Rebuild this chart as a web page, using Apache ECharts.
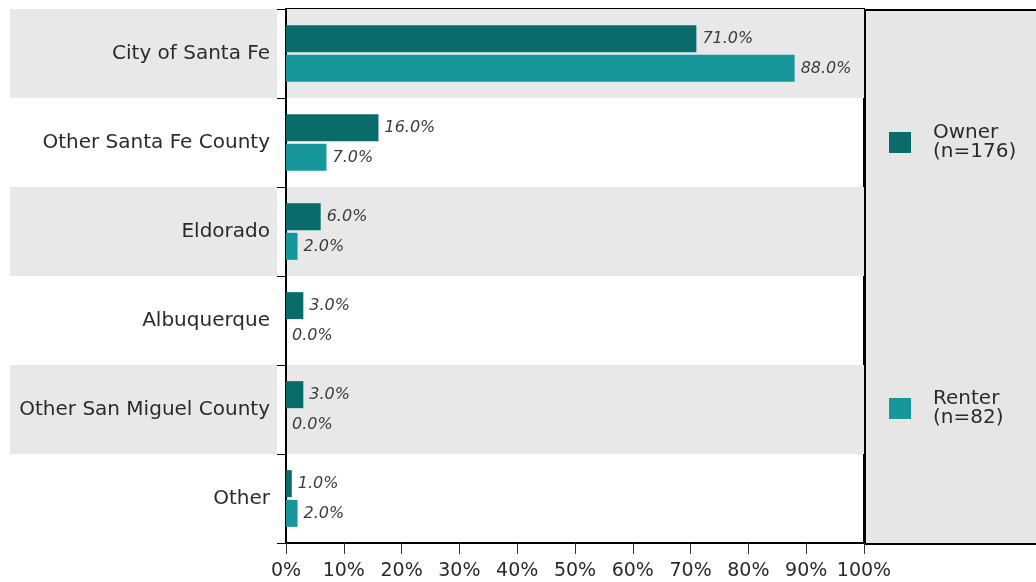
<!DOCTYPE html>
<html>
<head>
<meta charset="utf-8">
<script src="https://cdn.jsdelivr.net/npm/echarts@6/dist/echarts.min.js"></script>
<style>
  html, body { margin: 0; padding: 0; background: #fff; }
  #chart { width: 1036px; height: 582px; }
</style>
</head>
<body>
<div id="chart"></div>
<script>
// Place of residence by tenure
const categories = ['City of Santa Fe', 'Other Santa Fe County', 'Eldorado', 'Albuquerque', 'Other San Miguel County', 'Other'];
const ownerValues = [71, 16, 6, 3, 3, 1];
const renterValues = [88, 7, 2, 0, 0, 2];
const ownerName = 'Owner';
const renterName = 'Renter';
const ownerCount = 'n=176';
const renterCount = 'n=82';

const FONT = '"DejaVu Sans", Verdana, sans-serif';
const BAND = '#e8e8e8';
const TEXT = '#2b2b2b';

const chart = echarts.init(document.getElementById('chart'), null, { renderer: 'canvas' });

const valueLabel = {
  show: true,
  position: 'right',
  distance: 6,
  fontFamily: FONT,
  fontStyle: 'italic',
  fontSize: 16,
  color: '#3c3c3c',
  formatter: p => p.value.toFixed(1) + '%'
};

function legendFor(name, count, top) {
  return {
    data: [name],
    orient: 'vertical',
    left: 889,
    top: top,
    padding: 0,
    itemWidth: 22,
    itemHeight: 21,
    icon: 'rect',
    selectedMode: false,
    formatter: n => n + '\n(' + count + ')',
    textStyle: {
      fontFamily: FONT,
      fontSize: 20,
      lineHeight: 19,
      color: TEXT,
      padding: [0, 0, 0, 17]
    }
  };
}

// label boxes double as the row bands left of the axis
const labelBox = {
  width: 260, height: 89, lineHeight: 89, align: 'right',
  padding: [0, 7, 0, 0],
  fontFamily: FONT, fontSize: 20, color: TEXT
};

chart.setOption({
  animation: false,
  backgroundColor: '#ffffff',
  graphic: [{
    // legend panel on the right of the plot
    type: 'rect',
    left: 864,
    top: 9,
    shape: { width: 180, height: 534 },
    style: { fill: '#e6e6e6', stroke: '#000', lineWidth: 2 },
    z: -1
  }],
  grid: {
    left: 286,
    right: 172,
    top: 9,
    bottom: 39,
    show: true,
    borderColor: '#000',
    borderWidth: 2,
    backgroundColor: 'transparent'
  },
  legend: [
    legendFor(ownerName, ownerCount, 123),
    legendFor(renterName, renterCount, 389)
  ],
  xAxis: {
    type: 'value',
    min: 0,
    max: 100,
    interval: 10,
    axisLine: { show: true, lineStyle: { color: '#000', width: 2 } },
    axisTick: { show: true, length: 11, lineStyle: { color: '#333', width: 1 } },
    splitLine: { show: false },
    axisLabel: {
      margin: 19,
      fontFamily: FONT,
      fontSize: 19,
      color: TEXT,
      formatter: '{value}%'
    }
  },
  yAxis: {
    type: 'category',
    data: categories,
    inverse: true,
    axisLine: { show: true, lineStyle: { color: '#000', width: 2 } },
    axisTick: { show: true, length: 9, lineStyle: { color: '#000', width: 1 } },
    splitArea: { show: true, areaStyle: { color: [BAND, 'rgba(0,0,0,0)'] } },
    axisLabel: {
      margin: 9,
      formatter: (v, i) => (i % 2 === 0 ? '{g|' : '{w|') + v + '}',
      rich: {
        g: Object.assign({ backgroundColor: BAND }, labelBox),
        w: Object.assign({}, labelBox)
      }
    }
  },
  series: [
    {
      name: ownerName,
      type: 'bar',
      data: ownerValues,
      barWidth: 27,
      barGap: '10%',
      itemStyle: { color: '#0a6b6b' },
      label: valueLabel
    },
    {
      name: renterName,
      type: 'bar',
      data: renterValues,
      barWidth: 27,
      barGap: '10%',
      itemStyle: { color: '#17979b' },
      label: valueLabel
    }
  ]
});
</script>
</body>
</html>
